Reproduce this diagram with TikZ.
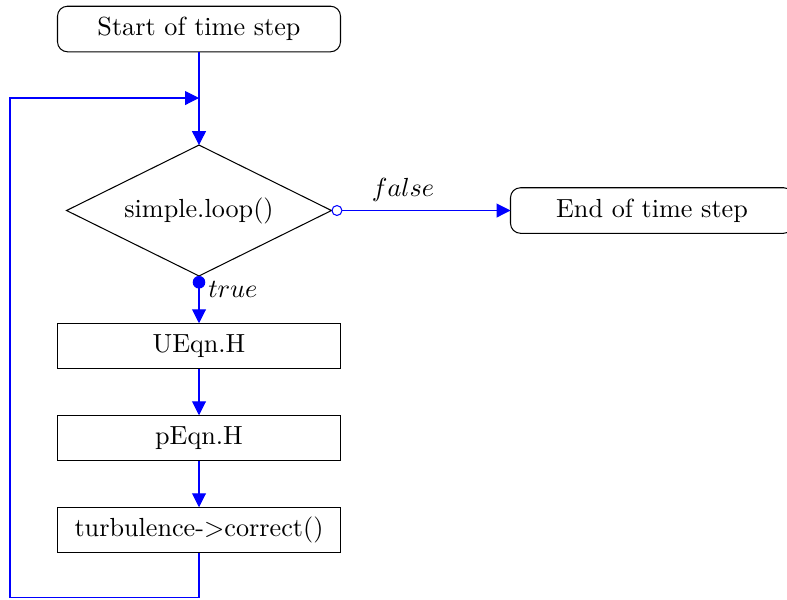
\documentclass[tikz,border=0pt]{standalone}
\usetikzlibrary{shapes.geometric,arrows.meta}
\begin{document}
\begin{tikzpicture}[x=0.382pt,y=-0.382pt,
  procbox/.style={draw, rectangle, minimum width=108.1pt, minimum height=17.4pt, inner sep=0pt, outer sep=0pt},
  termbox/.style={procbox, rounded corners=3.8pt},
  decision/.style={draw, diamond, aspect=2.02, minimum width=101.2pt, minimum height=50pt, inner sep=0pt, outer sep=0pt},
  flow/.style={draw=blue, line width=0.4pt, -{Triangle[length=5.3pt,width=5.3pt]}},
  opentip/.style={{Circle[open,length=4.2pt]}-{Triangle[length=5.3pt,width=5.3pt]}},
  filledtip/.style={{Circle[length=4.8pt]}-{Triangle[length=5.3pt,width=5.3pt]}}
]
\useasboundingbox (0,0) rectangle (787,599);
\node[termbox] (start) at (199,29) {Start of time step};
\node[decision] (loop) at (199,210.5) {simple.loop()};
\node[termbox] (end) at (652,210.5) {End of time step};
\node[procbox] (ueqn) at (199,346) {UEqn.H};
\node[procbox] (peqn) at (199,438) {pEqn.H};
\node[procbox] (turb) at (199,530) {turbulence->correct()};
\coordinate (merge) at (199,98);
\coordinate (c1) at (199,597.5);
\coordinate (c2) at (10,597.5);
\coordinate (c3) at (10,98);

\draw[flow] (start) -- (loop);
\draw[flow] (turb.south) -- (c1) -- (c2) -- (c3) -- (merge);
\draw[flow, opentip] (loop.east) -- node[above, pos=0.4] {$false$} (end.west);
\draw[flow, filledtip] (loop.south) -- node[right, pos=0.28] {$true$} (ueqn.north);
\draw[flow] (ueqn) -- (peqn);
\draw[flow] (peqn) -- (turb);
\end{tikzpicture}
\end{document}
